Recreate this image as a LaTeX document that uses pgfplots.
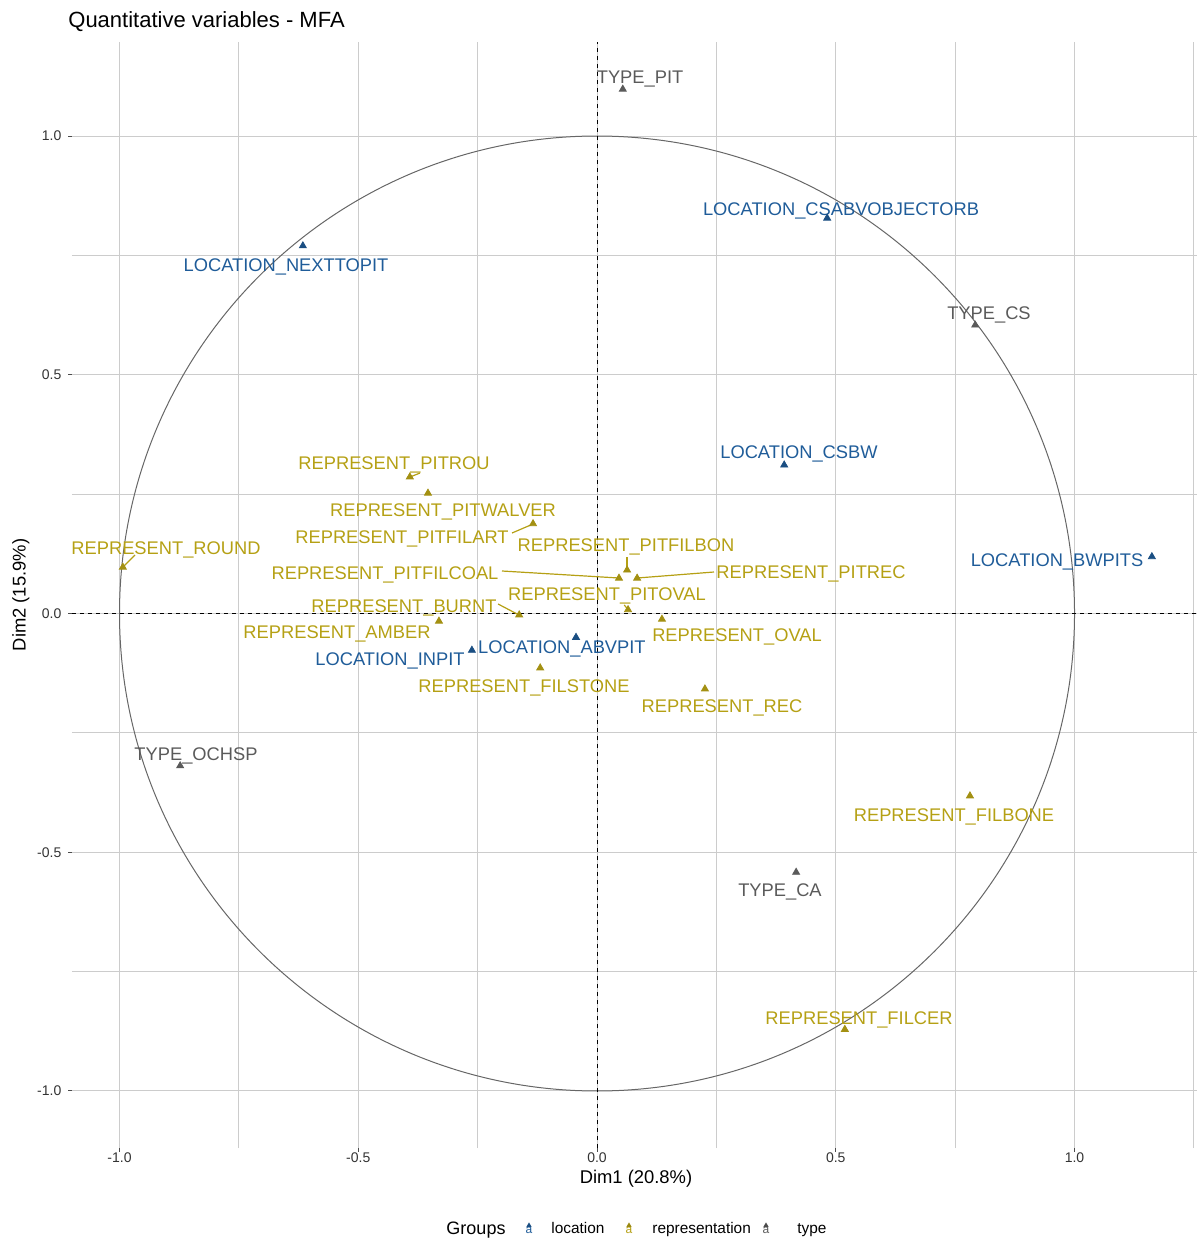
\documentclass[border=0pt]{standalone}
\usepackage{pgfplots}
\pgfplotsset{compat=1.18}
\usepackage{fontspec}
\setmainfont{Liberation Sans}
\definecolor{locc}{RGB}{31,92,153}
\definecolor{repc}{RGB}{181,160,20}
\definecolor{typc}{RGB}{90,90,90}
\tikzset{lab/.style={font=\fontsize{9.15}{10}\selectfont, inner sep=0pt, text height=6.55pt, text depth=0pt, anchor=center}}
\begin{document}
\begin{tikzpicture}
\path[use as bounding box] (-36pt,-45.5pt) rectangle (562.5pt,574pt);
\begin{axis}[
  scale only axis, width=562.5pt, height=553pt,
  xmin=-1.0995, xmax=1.2565, ymin=-1.1194, ymax=1.1969,
  xtick={-1,-0.5,0,0.5,1}, ytick={-1,-0.5,0,0.5,1},
  minor xtick={-0.75,-0.25,0.25,0.75,1.25}, minor ytick={-0.75,-0.25,0.25,0.75},
  grid=both,
  major grid style={black!20, line width=0.5pt},
  minor grid style={black!20, line width=0.5pt},
  axis line style={draw=none},
  tick pos=left,
  tick align=outside, major tick length=1.8pt, minor tick length=0pt,
  tick style={black!70, line width=0.5pt},
  /pgf/number format/assume math mode=true,
  xticklabel={\pgfmathprintnumber[fixed,fixed zerofill,precision=1]{\tick}},
  yticklabel={\pgfmathprintnumber[fixed,fixed zerofill,precision=1]{\tick}},
  ticklabel style={font=\fontsize{7}{8}\selectfont, text=black!80},
  xticklabel style={yshift=3pt},
  clip=false,
]
% reference lines and circle
\draw[black!60, line width=0.5pt] (axis cs:0,0) circle[radius=1];
\draw[black, dashed, dash pattern=on 2pt off 2pt, line width=0.5pt] (axis cs:0,-1.1194) -- (axis cs:0,1.1969);
\draw[black, dashed, dash pattern=on 2pt off 2pt, line width=0.5pt] (axis cs:-1.0995,0) -- (axis cs:1.2565,0);

% leader segments (representation)
\addplot[repc, line width=0.6pt, no marks] coordinates {(-0.9675,0.1225) (-0.993,0.097)};
\addplot[repc, line width=0.6pt, no marks] coordinates {(-0.3707,0.2942) (-0.3916,0.2859)};
\addplot[repc, line width=0.6pt, no marks] coordinates {(-0.178,0.1686) (-0.134,0.1874)};
\addplot[repc, line width=0.6pt, no marks] coordinates {(0.0628,0.1183) (0.0628,0.0911)};
\addplot[repc, line width=0.6pt, no marks] coordinates {(-0.199,0.0890) (0.0461,0.0743)};
\addplot[repc, line width=0.6pt, no marks] coordinates {(0.245,0.0869) (0.0838,0.0743)};
\addplot[repc, line width=0.6pt, no marks] coordinates {(-0.2073,0.0199) (-0.1634,-0.0031)};
\addplot[repc, line width=0.6pt, no marks] coordinates {(0.057,0.018) (0.065,0.008)};

% points
\addplot[only marks, mark=triangle*, mark size=2pt, color=locc!85!black] coordinates {
(0.482,0.828) (-0.616,0.770) (0.392,0.311) (1.162,0.119) (-0.262,-0.077) (-0.044,-0.050)};
\addplot[only marks, mark=triangle*, mark size=2pt, color=repc!90!black] coordinates {
(-0.392,0.286) (-0.354,0.252) (-0.134,0.188) (0.063,0.091) (0.046,0.074) (0.084,0.074)
(0.065,0.008) (0.136,-0.012) (-0.163,-0.003) (-0.331,-0.016) (-0.119,-0.114) (0.226,-0.158)
(-0.993,0.097) (0.781,-0.382) (0.519,-0.871)};
\addplot[only marks, mark=triangle*, mark size=2pt, color=typc] coordinates {
(0.054,1.098) (0.792,0.604) (-0.873,-0.319) (0.417,-0.542)};

% labels
\node[lab, text=typc] at (axis cs:0.0901,1.1236) {TYPE\_PIT};
\node[lab, text=locc] at (axis cs:0.5110,0.8480) {LOCATION\_CSABVOBJECTORB};
\node[lab, text=locc] at (axis cs:-0.6513,0.7298) {LOCATION\_NEXTTOPIT};
\node[lab, text=typc] at (axis cs:0.8209,0.6293) {TYPE\_CS};
\node[lab, text=repc] at (axis cs:-0.4251,0.3152) {REPRESENT\_PITROU};
\node[lab, text=locc] at (axis cs:0.4230,0.3382) {LOCATION\_CSBW};
\node[lab, text=repc] at (axis cs:-0.3225,0.2168) {REPRESENT\_PITWALVER};
\node[lab, text=repc] at (axis cs:-0.4084,0.1602) {REPRESENT\_PITFILART};
\node[lab, text=repc] at (axis cs:-0.9026,0.1372) {REPRESENT\_ROUND};
\node[lab, text=repc] at (axis cs:0.0607,0.1435) {REPRESENT\_PITFILBON};
\node[lab, text=locc] at (axis cs:0.9634,0.1120) {LOCATION\_BWPITS};
\node[lab, text=repc] at (axis cs:-0.4440,0.0848) {REPRESENT\_PITFILCOAL};
\node[lab, text=repc] at (axis cs:0.4482,0.0869) {REPRESENT\_PITREC};
\node[lab, text=repc] at (axis cs:0.0209,0.0408) {REPRESENT\_PITOVAL};
\node[lab, text=repc] at (axis cs:-0.4042,0.0157) {REPRESENT\_BURNT};
\node[lab, text=repc] at (axis cs:-0.5445,-0.0387) {REPRESENT\_AMBER};
\node[lab, text=repc] at (axis cs:0.2932,-0.0450) {REPRESENT\_OVAL};
\node[lab, text=locc] at (axis cs:-0.0735,-0.0702) {LOCATION\_ABVPIT};
\node[lab, text=locc] at (axis cs:-0.4335,-0.0953) {LOCATION\_INPIT};
\node[lab, text=repc] at (axis cs:-0.1529,-0.1518) {REPRESENT\_FILSTONE};
\node[lab, text=repc] at (axis cs:0.2618,-0.1937) {REPRESENT\_REC};
\node[lab, text=typc] at (axis cs:-0.8398,-0.2942) {TYPE\_OCHSP};
\node[lab, text=repc] at (axis cs:0.7476,-0.4220) {REPRESENT\_FILBONE};
\node[lab, text=typc] at (axis cs:0.3832,-0.5791) {TYPE\_CA};
\node[lab, text=repc] at (axis cs:0.5487,-0.8471) {REPRESENT\_FILCER};
\end{axis}
% title and axis titles
\node[anchor=west, font=\fontsize{11}{12}\selectfont, inner sep=0pt, text height=7.9pt, text depth=0pt] at (-2pt,564pt) {Quantitative variables - MFA};
\node[font=\fontsize{9.2}{10}\selectfont, inner sep=0pt, text height=6.6pt, text depth=0pt] at (282pt,-14.5pt) {Dim1 (20.8\%)};
\node[rotate=90, font=\fontsize{9.2}{10}\selectfont, inner sep=0pt, text height=6.6pt, text depth=0pt] at (-26.5pt,276.5pt) {Dim2 (15.9\%)};
% legend
\node[font=\fontsize{9}{10}\selectfont, inner sep=0pt, text height=6.4pt, text depth=0pt] at (202pt,-40pt) {Groups};
\foreach \kx/\kc in {228.5/locc, 278.5/repc, 347/typc}{
  \node[text=\kc, font=\fontsize{6}{6}\selectfont, inner sep=0pt] at (\kx pt,-41.3pt) {a};
  \fill[\kc!85!black] ([xshift=-1.4pt]\kx pt,-39.6pt) -- ([xshift=1.4pt]\kx pt,-39.6pt) -- (\kx pt,-37.2pt) -- cycle;
}
\node[anchor=west, font=\fontsize{7.7}{9}\selectfont, inner sep=0pt, text height=5.5pt, text depth=0pt] at (239.5pt,-40pt) {location};
\node[anchor=west, font=\fontsize{7.7}{9}\selectfont, inner sep=0pt, text height=5.5pt, text depth=0pt] at (290pt,-40pt) {representation};
\node[anchor=west, font=\fontsize{7.7}{9}\selectfont, inner sep=0pt, text height=5.5pt, text depth=0pt] at (362.5pt,-40pt) {type};
\end{tikzpicture}
\end{document}
